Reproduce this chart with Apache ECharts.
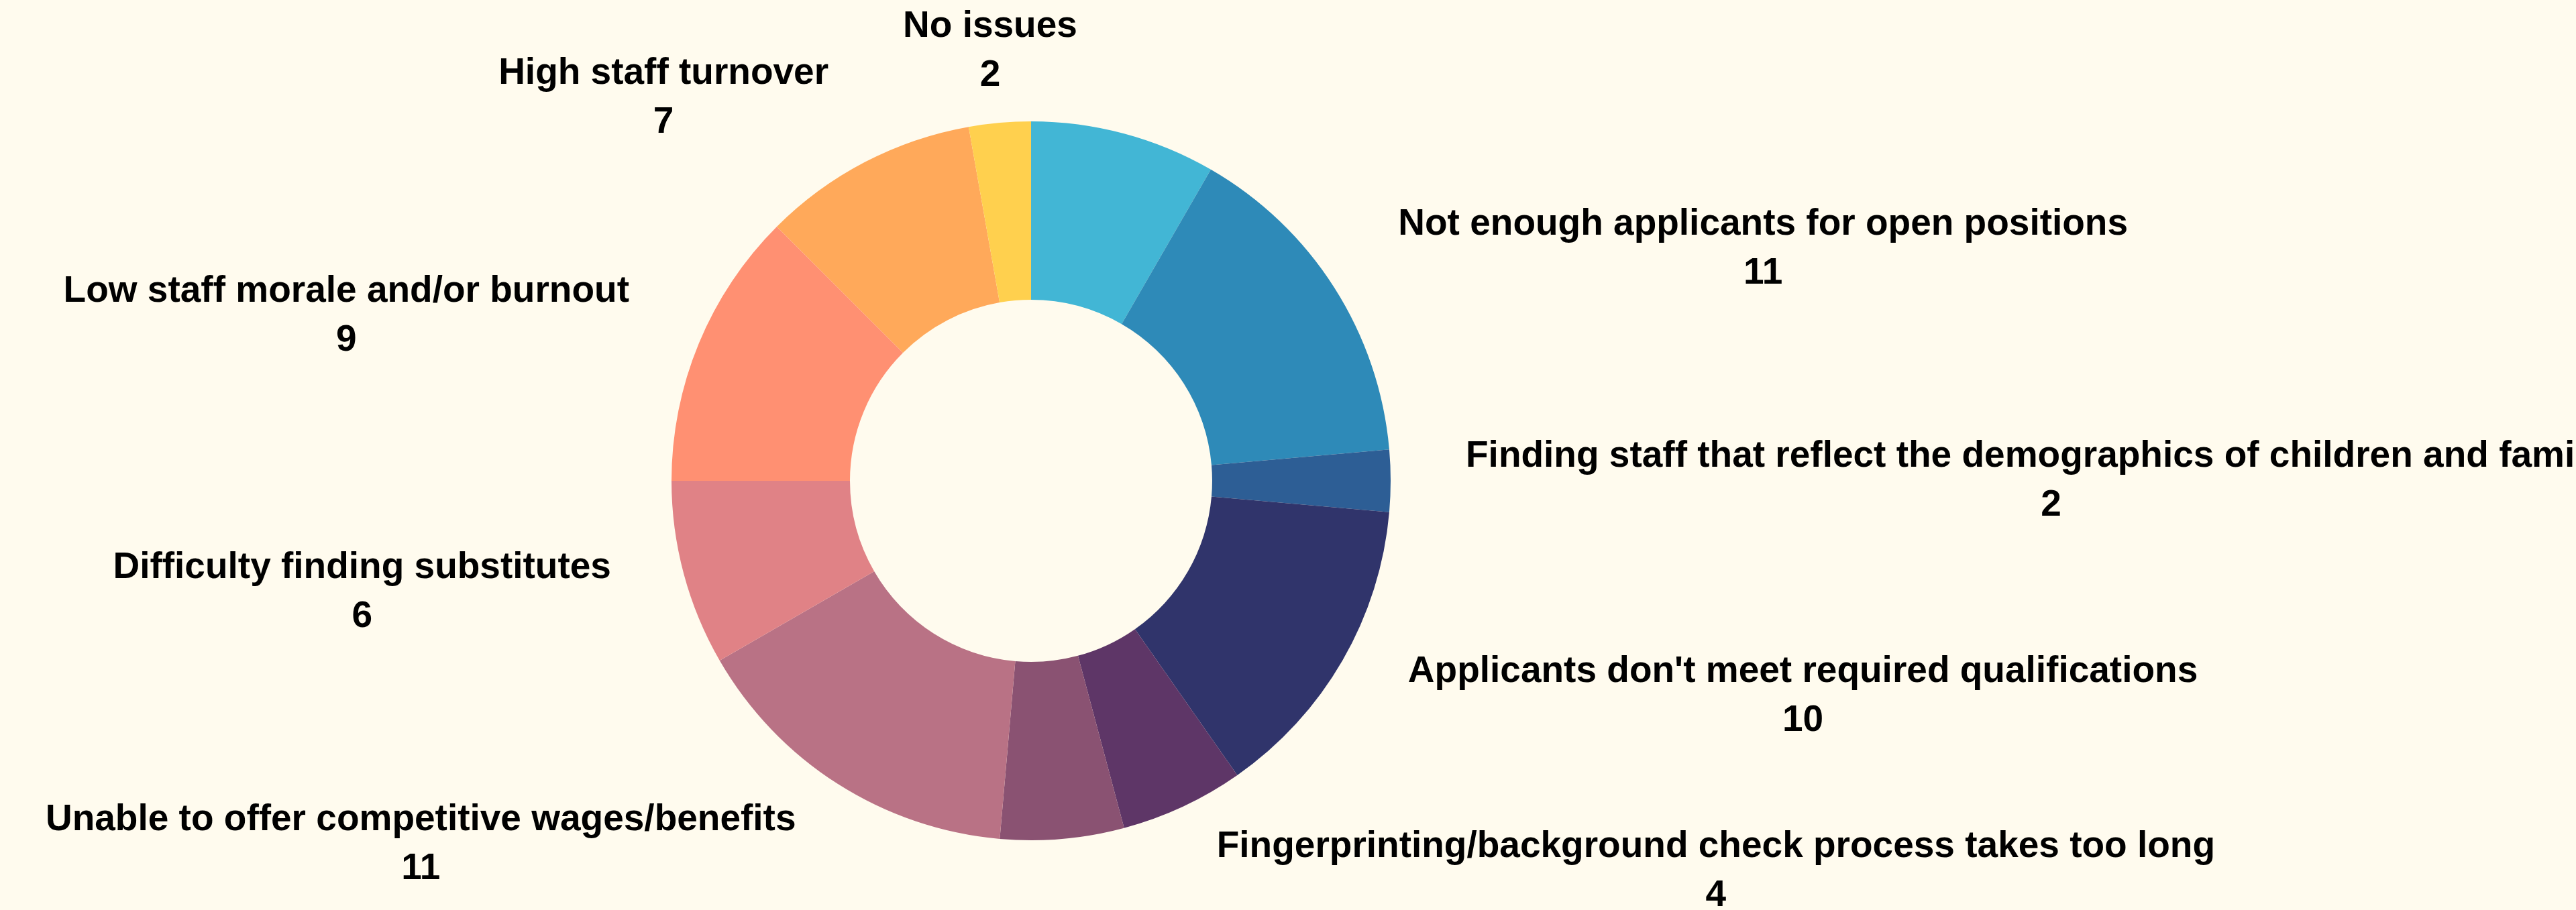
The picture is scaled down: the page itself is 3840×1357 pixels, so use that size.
<!DOCTYPE html>
<html>
<head>
<meta charset="utf-8">
<script src="https://cdn.jsdelivr.net/npm/echarts@6/dist/echarts.min.js"></script>
<style>
  html, body { margin: 0; padding: 0; background: #FFFBEE; overflow: hidden; }
  #chart { width: 4200px; height: 1357px; }
</style>
</head>
<body>
<div id="chart"></div>
<script>
const categories = [
  "Other staffing challenges",
  "Not enough applicants for open positions",
  "Finding staff that reflect the demographics of children and families",
  "Applicants don't meet required qualifications",
  "Fingerprinting/background check process takes too long",
  "Other",
  "Unable to offer competitive wages/benefits",
  "Difficulty finding substitutes",
  "Low staff morale and/or burnout",
  "High staff turnover",
  "No issues"
];
const values = [6, 11, 2, 10, 4, 4, 11, 6, 9, 7, 2];
const hiddenLabels = ["Other staffing challenges", "Other"];
const centeredLabels = ["No issues"];
const palette = ["#42B6D5", "#2E8AB8", "#2D5E95", "#30346B", "#5E3667", "#8A5272",
                 "#B97285", "#E08286", "#FF9072", "#FFA95A", "#FFD04E"];

const chart = echarts.init(document.getElementById('chart'), null, { renderer: 'canvas' });
const data = categories.map((name, i) => {
  const item = { name: name, value: values[i] };
  if (hiddenLabels.includes(name)) {
    item.label = { show: false };
    item.labelLine = { show: false };
  }
  return item;
});

chart.setOption({
  backgroundColor: '#FFFBEE',
  color: palette,
  animation: false,
  series: [{
    type: 'pie',
    center: [1537, 717],
    radius: [270, 536],
    startAngle: 90,
    clockwise: true,
    avoidLabelOverlap: false,
    data: data,
    itemStyle: { borderWidth: 0 },
    label: {
      show: true,
      position: 'outside',
      formatter: '{n|{b}}\n{v|{c}}',
      color: '#000',
      fontFamily: '"Liberation Sans", Arial, sans-serif',
      fontWeight: 'bold',
      fontSize: 55,
      lineHeight: 73,
      rich: {
        n: { align: 'center', fontFamily: '"Liberation Sans", Arial, sans-serif', fontWeight: 'bold', fontSize: 55, lineHeight: 73, color: '#000' },
        v: { align: 'center', fontFamily: '"Liberation Sans", Arial, sans-serif', fontWeight: 'bold', fontSize: 55, lineHeight: 73, color: '#000' }
      }
    },
    labelLine: { show: false, length: 107, length2: 0 },
    labelLayout: function (params) {
      if (centeredLabels.includes(categories[params.dataIndex])) {
        return { align: 'center' };
      }
    }
  }]
});
</script>
</body>
</html>
